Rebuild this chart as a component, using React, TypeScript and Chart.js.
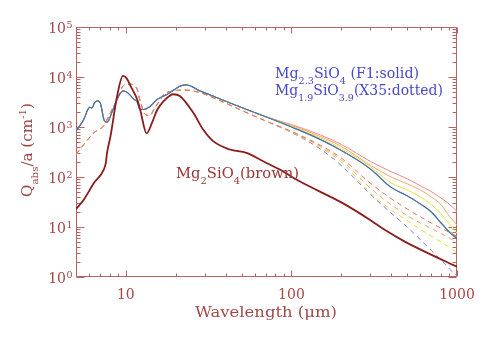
import { useEffect, useRef } from 'react';
import { Chart, registerables } from 'chart.js';

Chart.register(...registerables);

// ---- Data ----
const brownWavelength = [5, 5.57, 6.41, 7.36, 7.57, 7.7, 8.08, 8.86, 9.6, 10.1, 10.67, 11.7, 12.2, 13.35, 14.4, 15.5, 16.97, 18.6, 19.3, 21.2, 25.5, 29.3, 33.7, 42.4, 53.5, 67.5, 85, 112, 204, 297, 366, 484, 667, 1000];
const brownQ = [22.9, 35, 76, 141, 192, 303, 656, 4170, 10500, 9500, 6630, 3580, 2240, 744, 1220, 2240, 3320, 4310, 4520, 4170, 1940, 890, 521, 355, 305, 207, 141, 82, 30, 14, 8.8, 5.1, 3, 1.6];

const f1ShortWavelength = [5, 5.57, 5.9, 6.05, 6.25, 6.45, 6.75, 7.0, 7.43, 7.7, 8.3, 8.86, 9.6, 10.2, 11.2, 11.7, 12.2, 12.85, 14.1, 15.5, 17.8, 19.5, 21.4, 23.2, 28, 35, 50, 70];
const f1ShortQ = [828, 1420, 2250, 2480, 2400, 3000, 3330, 3050, 1320, 1250, 2100, 3580, 5270, 4900, 3580, 3180, 2240, 2240, 2630, 3580, 4520, 5500, 6630, 6940, 5270, 3930, 2450, 1600];

const longWavelength = [100, 150, 200, 300, 400, 500, 600, 700, 800, 900, 1000];
const f1BlueQ = [1000, 560, 340, 145, 62, 42, 29, 20, 12, 7.8, 5.8];
const f1GreenQ = [1000, 560, 340, 145, 62, 42, 29, 20.3, 12.4, 8.2, 6.3];
const f1YellowQ = [1040, 600, 375, 160, 76, 55, 40, 28, 18.4, 11.6, 7.5];
const f1OrangeQ = [1080, 640, 410, 172, 100, 73, 55, 40, 28, 16.5, 11];
const f1PinkQ = [1120, 690, 450, 205, 128, 92, 67, 51, 38, 28.5, 20.5];

const x35ShortWavelength = [5, 5.57, 6.41, 7.36, 8.08, 8.86, 9.73, 10.67, 11.7, 12.2, 13.1, 14, 14.76, 16.2, 17, 19.5, 22.4, 28, 35, 50, 70];
const x35ShortQ = [282, 447, 767, 1070, 1940, 3580, 6840, 7160, 5680, 3320, 1780, 1700, 2240, 3580, 4520, 5270, 5500, 4900, 3660, 2150, 1320];
const x35PinkQ = [820, 430, 240, 75, 37, 23, 16, 12, 9.5, 7.8, 6.4];
const x35OrangeQ = [800, 410, 220, 60, 28, 17, 12, 9.3, 7.4, 6, 4.9];
const x35YellowQ = [790, 390, 200, 48, 22, 13.5, 9, 6.6, 5, 3.9, 3];
const x35BlueQ = [780, 360, 170, 45, 19, 10, 5.6, 3.4, 2.2, 1.45, 1.05];

const xTickValues = [10, 100, 1000];
const yTickExponents = [0, 1, 2, 3, 4, 5];

// ---- helpers ----
type Seg = { t: string; m?: 'sub' | 'sup' };
const FAMILY = '"DejaVu Serif", serif';
const AXIS_COLOR = '#b46464';
const TEXT_COLOR = '#a34848';

function pts(xs: number[], ys: number[]) {
  return xs.map((x, i) => ({ x, y: ys[i] }));
}
function joined(sx: number[], sy: number[], lx: number[], ly: number[]) {
  return [...pts(sx, sy), ...pts(lx, ly)];
}

function drawRich(
  ctx: CanvasRenderingContext2D,
  segs: Seg[],
  x: number,
  y: number,
  size: number,
  color: string,
  align: 'left' | 'center' | 'right',
  width?: number
) {
  const small = size * 0.68;
  const fontOf = (s: Seg) => `${s.m ? small : size}px ${FAMILY}`;
  const widths = segs.map((s) => {
    ctx.font = fontOf(s);
    return ctx.measureText(s.t).width;
  });
  const total = widths.reduce((a, b) => a + b, 0);
  const sx = width ? width / total : 1;
  ctx.save();
  ctx.translate(x, y);
  ctx.scale(sx, 1);
  ctx.fillStyle = color;
  ctx.textBaseline = 'alphabetic';
  ctx.textAlign = 'left';
  let cur = align === 'left' ? 0 : align === 'center' ? -total / 2 : -total;
  segs.forEach((s, i) => {
    ctx.font = fontOf(s);
    const dy = s.m === 'sub' ? size * 0.46 : s.m === 'sup' ? -size * 0.42 : 0;
    ctx.fillText(s.t, cur, dy);
    cur += widths[i];
  });
  ctx.restore();
}

const idlAxes = {
  id: 'idlAxes',
  beforeDatasetsDraw(chart: any) {
    const { ctx, chartArea: a, scales } = chart;
    const xs = scales.x;
    const ys = scales.y;
    ctx.save();
    ctx.strokeStyle = AXIS_COLOR;
    ctx.lineWidth = 1;
    const L = Math.round(a.left) + 0.5;
    const R = Math.round(a.right) - 0.5;
    const T = Math.round(a.top) + 0.5;
    const B = Math.round(a.bottom) - 0.5;
    ctx.beginPath();
    ctx.rect(L, T, R - L, B - T);
    for (let d = 1; d <= 1000; d *= 10) {
      for (let m = 1; m <= 9; m++) {
        const v = m * d;
        if (v < 5 || v > 1000) continue;
        const px = Math.round(xs.getPixelForValue(v)) + 0.5;
        const len = m === 1 ? 6 : 3;
        ctx.moveTo(px, B);
        ctx.lineTo(px, B - len);
        ctx.moveTo(px, T);
        ctx.lineTo(px, T + len);
      }
    }
    for (let e = 0; e <= 5; e++) {
      for (let m = 1; m <= 9; m++) {
        const v = m * Math.pow(10, e);
        if (v > 1e5) continue;
        const py = Math.round(ys.getPixelForValue(v)) + 0.5;
        const len = m === 1 ? 8 : 4;
        ctx.moveTo(L, py);
        ctx.lineTo(L + len, py);
        ctx.moveTo(R, py);
        ctx.lineTo(R - len, py);
      }
    }
    ctx.stroke();
    ctx.restore();
  },
  afterDraw(chart: any) {
    const { ctx, chartArea: a, scales } = chart;
    const xs = scales.x;
    const ys = scales.y;
    xTickValues.forEach((v) => {
      drawRich(ctx, [{ t: String(v) }], xs.getPixelForValue(v), a.bottom + 21.5, 14, TEXT_COLOR, 'center');
    });
    yTickExponents.forEach((e) => {
      const py = ys.getPixelForValue(Math.pow(10, e));
      drawRich(ctx, [{ t: '10' }], a.left - 10, py + 6, 14, TEXT_COLOR, 'right');
      drawRich(ctx, [{ t: String(e) }], a.left - 9.5, py + 0.5, 9.5, TEXT_COLOR, 'left');
    });
    drawRich(ctx, [{ t: 'Wavelength (μm)' }], 266, 316.5, 14, TEXT_COLOR, 'center', 142);
    ctx.save();
    ctx.translate(32, 150);
    ctx.rotate(-Math.PI / 2);
    drawRich(
      ctx,
      [{ t: 'Q' }, { t: 'abs', m: 'sub' }, { t: '/a (cm' }, { t: '-1', m: 'sup' }, { t: ')' }],
      0,
      0,
      14,
      TEXT_COLOR,
      'center',
      94
    );
    ctx.restore();
    const blue = '#4848cc';
    drawRich(
      ctx,
      [{ t: 'Mg' }, { t: '2.3', m: 'sub' }, { t: 'SiO' }, { t: '4', m: 'sub' }, { t: ' (F1:solid)' }],
      275,
      78,
      14,
      blue,
      'left',
      144
    );
    drawRich(
      ctx,
      [{ t: 'Mg' }, { t: '1.9', m: 'sub' }, { t: 'SiO' }, { t: '3.9', m: 'sub' }, { t: '(X35:dotted)' }],
      275,
      95,
      14,
      blue,
      'left',
      168
    );
    drawRich(
      ctx,
      [{ t: 'Mg' }, { t: '2', m: 'sub' }, { t: 'SiO' }, { t: '4', m: 'sub' }, { t: '(brown)' }],
      176,
      178,
      14,
      '#983636',
      'left',
      123
    );
  },
};

function line(data: any[], color: string, width: number, dashed: boolean) {
  return {
    data,
    borderColor: color,
    borderWidth: width,
    borderDash: dashed ? [5, 4] : [],
    pointRadius: 0,
    fill: false,
    cubicInterpolationMode: 'monotone' as const,
  };
}

export default function App() {
  const ref = useRef<HTMLCanvasElement>(null);
  useEffect(() => {
    const chart = new Chart(ref.current as HTMLCanvasElement, {
      type: 'line',
      data: {
        datasets: [
          line(pts(brownWavelength, brownQ), '#8b1c1c', 1.8, false),
          line(joined(f1ShortWavelength, f1ShortQ, longWavelength, f1BlueQ), '#4f6db5', 1.2, false),
          line(joined(x35ShortWavelength, x35ShortQ, longWavelength, x35PinkQ), '#ea7462', 1, true),
          line(joined(x35ShortWavelength, x35ShortQ, longWavelength, x35OrangeQ), '#f5a36c', 1, true),
          line(joined(x35ShortWavelength, x35ShortQ, longWavelength, x35YellowQ), '#dede40', 1, true),
          line(joined(x35ShortWavelength, x35ShortQ, longWavelength, x35BlueQ), '#7a7aff', 1, true),
          line(joined(f1ShortWavelength, f1ShortQ, longWavelength, f1GreenQ), '#50b050', 1, false),
          line(joined(f1ShortWavelength, f1ShortQ, longWavelength, f1YellowQ), '#e4e44a', 1, false),
          line(joined(f1ShortWavelength, f1ShortQ, longWavelength, f1OrangeQ), '#f6a56a', 1, false),
          line(joined(f1ShortWavelength, f1ShortQ, longWavelength, f1PinkQ), '#f08888', 1, false),
        ],
      },
      options: {
        animation: false,
        responsive: false,
        devicePixelRatio: 1,
        layout: { padding: { left: 76, right: 28, top: 27, bottom: 72 } },
        plugins: { legend: { display: false }, tooltip: { enabled: false } },
        scales: {
          x: { type: 'logarithmic', min: 5, max: 1000, display: false },
          y: { type: 'logarithmic', min: 1, max: 100000, display: false },
        },
      },
      plugins: [idlAxes],
    });
    return () => chart.destroy();
  }, []);
  return (
    <div style={{ position: 'absolute', left: 0, top: 0, width: 485, height: 349, background: '#fff' }}>
      <canvas ref={ref} width={485} height={349} style={{ width: 485, height: 349, display: 'block' }} />
    </div>
  );
}
